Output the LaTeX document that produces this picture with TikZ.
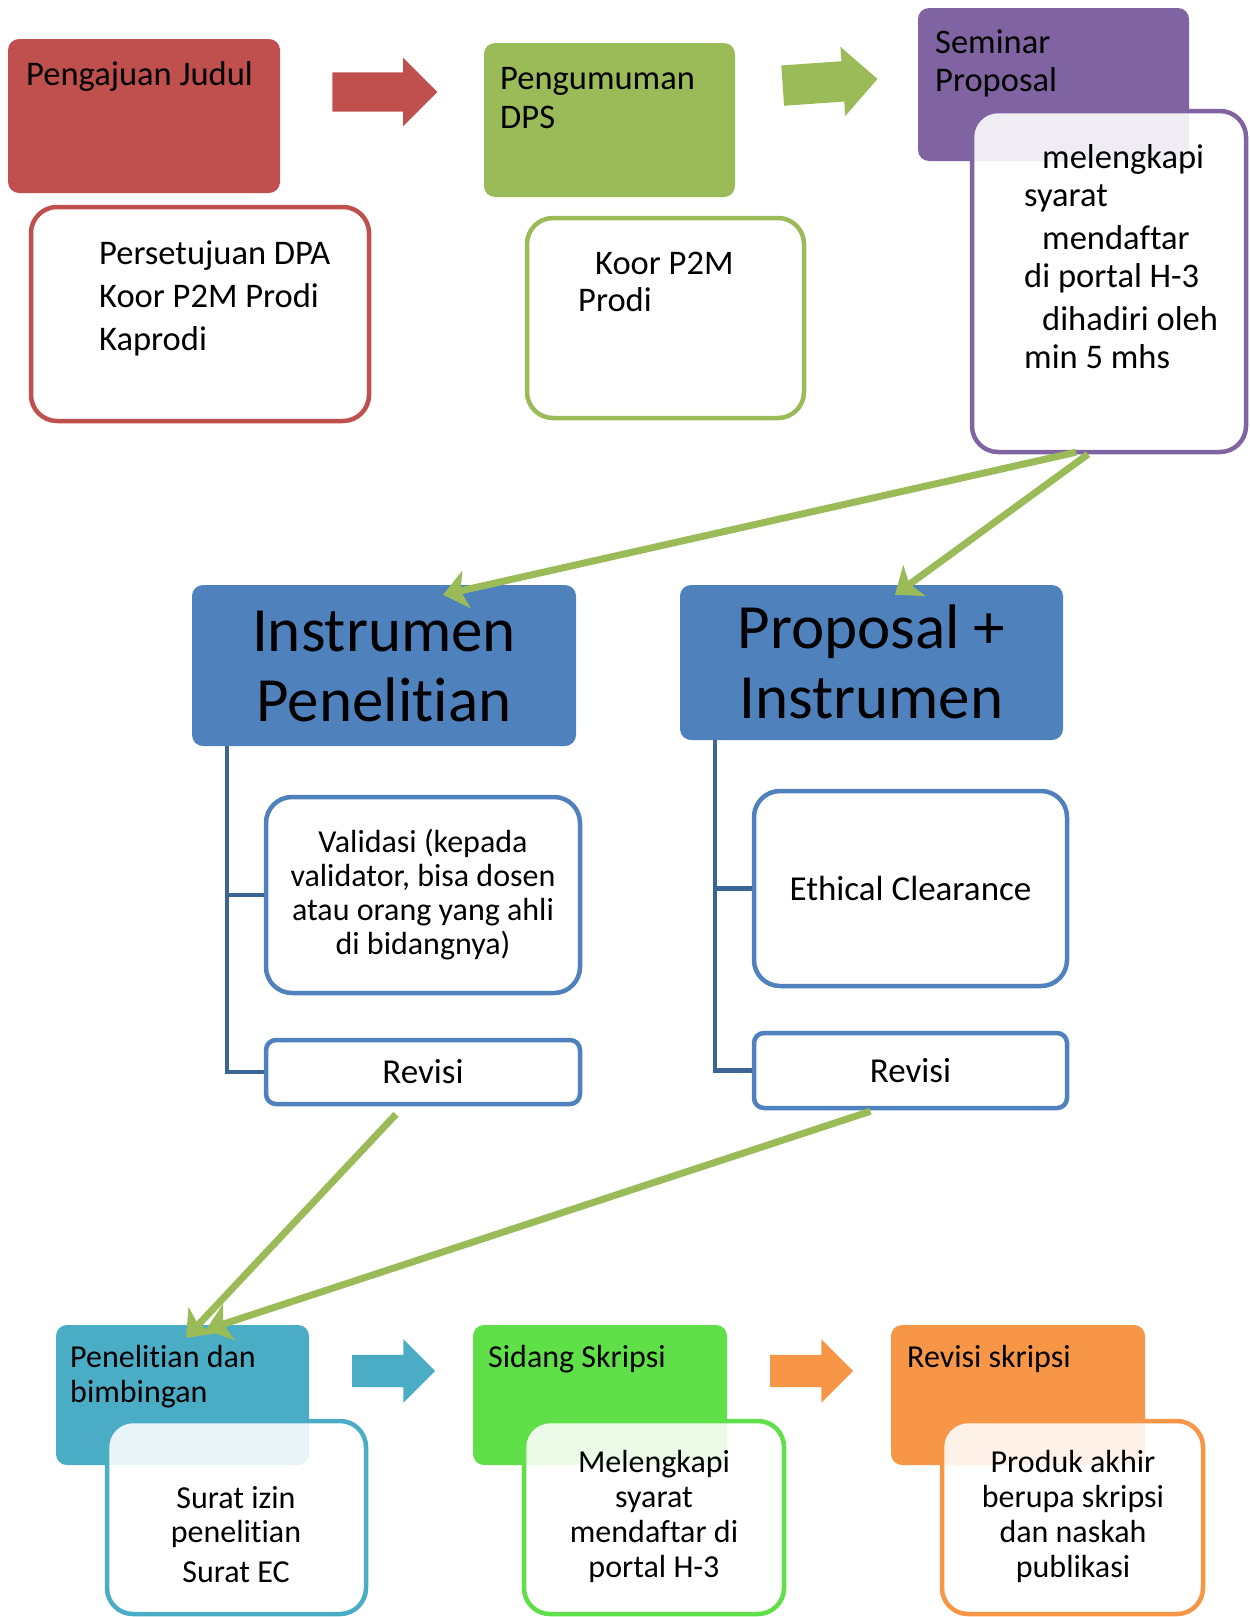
\documentclass[tikz,border=0pt]{standalone}
\usepackage{fontspec}
\setmainfont{Carlito}[Ligatures=NoCommon]
\usetikzlibrary{calc, arrows.meta, shapes.arrows}
\definecolor{judulred}{HTML}{C0504D}
\definecolor{dpsgreen}{HTML}{9BBB59}
\definecolor{sempurple}{HTML}{8064A2}
\definecolor{instblue}{HTML}{4F81BD}
\definecolor{treeblue}{HTML}{3B6595}
\definecolor{riseteal}{HTML}{4BACC6}
\definecolor{sidanggreen}{HTML}{5FDF48}
\definecolor{revorange}{HTML}{F79646}
\tikzset{
  stagebox/.style={fill=#1, rounded corners=11pt, inner sep=0pt},
  notebox/.style={draw=#1, fill=white, fill opacity=0.88, line width=4.5pt, rounded corners=26pt, inner sep=0pt},
  subbox/.style={draw=instblue, fill=white, line width=4.5pt, rounded corners=#1, inner sep=0pt, align=center, font=\fontsize{32}{34}\selectfont},
  subbox/.default=26pt,
  blockarr/.style={single arrow, fill=#1, inner xsep=0pt, inner ysep=19.5pt, single arrow head extend=14.5pt},
  flowlink/.style={draw=dpsgreen, line width=7pt, -{Stealth[length=24pt, width=38pt, inset=6pt]}},
  treeline/.style={draw=treeblue, line width=4.5pt},
  boxtext/.style={inner sep=0pt, anchor=base west, align=left, font=\fontsize{34.5}{38}\selectfont},
}
\begin{document}
\begin{tikzpicture}[x=1pt, y=-1pt]
	\useasboundingbox (0,0) rectangle (1250,1617);

	% top row
	\node[stagebox=judulred, minimum width=272pt, minimum height=154pt] (judul) at (144,116) {};
	\node[boxtext] (judul-t) at (26,85) {Pengajuan Judul};
	\node[notebox=judulred, minimum width=338pt, minimum height=214pt] (dpa) at (200,314) {};
	\node[boxtext, font=\fontsize{34.5}{43}\selectfont] (dpa-t) at (99,350) {Persetujuan DPA\\Koor P2M Prodi\\Kaprodi};
	\node[blockarr=judulred, minimum height=105pt] (arr1) at (375,92) {};

	\node[stagebox=dpsgreen, minimum width=251pt, minimum height=154pt] (dps) at (609.5,120) {};
	\node[boxtext, font=\fontsize{34.5}{39}\selectfont] (dps-t) at (500,128) {Pengumuman\\DPS};
	\node[notebox=dpsgreen, minimum width=277pt, minimum height=200pt] (koor) at (665.5,318) {};
	\node[boxtext, font=\fontsize{34.5}{37}\selectfont] (koor-t) at (578,311) {\hspace*{17pt}Koor P2M\\Prodi};
	\node[blockarr=dpsgreen, minimum height=95pt, inner ysep=20pt, rotate=4] (arr2) at (820,83) {};

	\node[stagebox=sempurple, minimum width=271pt, minimum height=153pt] (seminar) at (1053.5,84.5) {};
	\node[boxtext] (seminar-t) at (935,91) {Seminar\\Proposal};
	\node[notebox=sempurple, minimum width=274pt, minimum height=341pt] (syarat) at (1109,281.5) {};
	\node[boxtext] (syarat-t) at (1024,368) {\hspace*{18pt}melengkapi\\syarat\\[5pt]\hspace*{18pt}mendaftar\\di portal H-3\\[5pt]\hspace*{18pt}dihadiri oleh\\min 5 mhs};

	% middle
	\node[stagebox=instblue, minimum width=384pt, minimum height=161pt] (instr) at (384,665.5) {};
	\node[inner sep=0pt, anchor=base, align=center, font=\fontsize{63}{70}\selectfont] (instr-t) at (384,721) {Instrumen\\Penelitian};
	\node[stagebox=instblue, minimum width=383pt, minimum height=155pt] (prop) at (871.5,662.5) {};
	\node[inner sep=0pt, anchor=base, align=center, font=\fontsize{63}{70}\selectfont] (prop-t) at (871.5,718) {Proposal +\\Instrumen};

	\node[subbox, minimum width=314pt, minimum height=196pt] (valid) at (423,895) {Validasi (kepada\\validator, bisa dosen\\atau orang yang ahli\\di bidangnya)};
	\node[subbox=10pt, minimum width=314pt, minimum height=64pt, font=\fontsize{35}{38}\selectfont] (revisi1) at (423,1072) {Revisi};
	\node[subbox, minimum width=313pt, minimum height=195pt, font=\fontsize{35}{38}\selectfont] (ethic) at (910.5,888.5) {Ethical Clearance};
	\node[subbox=10pt, minimum width=313pt, minimum height=75pt, font=\fontsize{35}{38}\selectfont] (revisi2) at (910.5,1070.5) {Revisi};

	\draw[treeline] (valid.west) -| ($(instr.south west)+(35,0)$);
	\draw[treeline] ($(instr.south west)+(35,0)$) |- (revisi1.west);
	\draw[treeline] (ethic.west) -| ($(prop.south west)+(35,0)$);
	\draw[treeline] ($(prop.south west)+(35,0)$) |- (revisi2.west);

	\draw[flowlink] ($(syarat.south)+(-33,-2)$) -- ($(instr.north)+(59,10)$);
	\draw[flowlink] ($(syarat.south)+(-21,0)$) -- ($(prop.north)+(23.5,10)$);

	% bottom row
	\node[stagebox=riseteal, minimum width=253pt, minimum height=140pt] (riset) at (182.5,1395) {};
	\node[boxtext, font=\fontsize{32}{35}\selectfont] (riset-t) at (70,1402) {Penelitian dan\\bimbingan};
	\node[notebox=riseteal, minimum width=259pt, minimum height=193pt] (surat) at (236.5,1517.5) {};
	\node[inner sep=0pt, anchor=base, align=center, font=\fontsize{32}{34}\selectfont] (surat-t) at (236,1582) {Surat izin\\penelitian\\[6pt]Surat EC};
	\node[blockarr=riseteal, minimum height=83pt, inner ysep=16pt, single arrow head extend=15.5pt] (arr3) at (385.5,1371) {};

	\node[stagebox=sidanggreen, minimum width=254pt, minimum height=140pt] (sidang) at (600,1395) {};
	\node[boxtext, font=\fontsize{32}{35}\selectfont] (sidang-t) at (488,1367) {Sidang Skripsi};
	\node[notebox=sidanggreen, minimum width=260pt, minimum height=193pt] (lengkap) at (654,1517.5) {};
	\node[inner sep=0pt, anchor=base, align=center, font=\fontsize{32}{35}\selectfont] (lengkap-t) at (654,1577) {Melengkapi\\syarat\\mendaftar di\\portal H-3};
	\node[blockarr=revorange, minimum height=83pt, inner ysep=16pt, single arrow head extend=15.5pt] (arr4) at (803.5,1371) {};

	\node[stagebox=revorange, minimum width=254pt, minimum height=140pt] (revskripsi) at (1018,1395) {};
	\node[boxtext, font=\fontsize{32}{35}\selectfont] (revskripsi-t) at (907,1367) {Revisi skripsi};
	\node[notebox=revorange, minimum width=261pt, minimum height=193pt] (produk) at (1072.5,1517.5) {};
	\node[inner sep=0pt, anchor=base, align=center, font=\fontsize{32}{35}\selectfont] (produk-t) at (1073,1577) {Produk akhir\\berupa skripsi\\dan naskah\\publikasi};

	\draw[flowlink] ($(revisi1.south)+(-27,8)$) -- ($(riset.north)+(3.5,13)$);
	\draw[flowlink] ($(revisi2.south)+(-40,1)$) -- ($(riset.north)+(23.5,5)$);
\end{tikzpicture}
\end{document}
